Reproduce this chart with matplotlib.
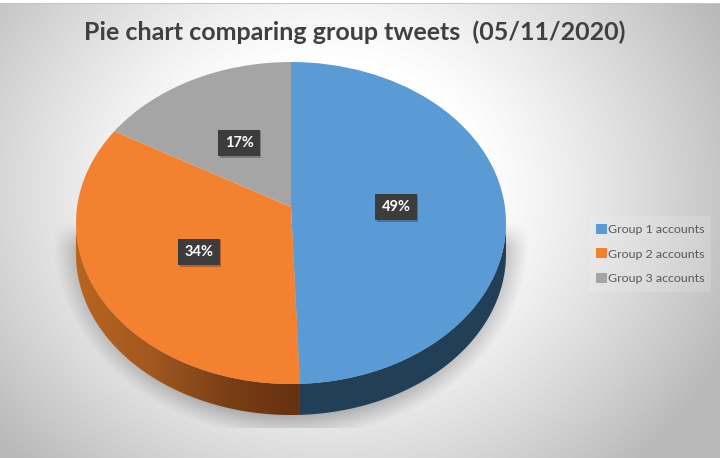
import numpy as np
import matplotlib
matplotlib.use("Agg")
import matplotlib.pyplot as plt
from matplotlib.colors import LinearSegmentedColormap
from matplotlib.patches import Polygon
from matplotlib.transforms import Transform

categories = ["Group 1 accounts", "Group 2 accounts", "Group 3 accounts"]
values = [49.4, 33.9, 16.7]
colors = ["#5b9bd5", "#f4812f", "#a5a5a5"]
title = "Pie chart comparing group tweets  (05/11/2020)"

W, H = 720, 458
CX, CY, RX, RY, DEPTH = 291, 223, 215, 161, 31
K = 0.10  # perspective of the tilted pie


class Perspective(Transform):
    input_dims = output_dims = 2

    def transform_non_affine(self, pts):
        pts = np.asarray(pts, float)
        w = 1 + K * pts[:, 1]
        return np.c_[pts[:, 0] * np.sqrt(1 - K ** 2) / w, (pts[:, 1] + K) / w]


fig = plt.figure(figsize=(W / 100, H / 100), dpi=100)
ax = fig.add_axes([0, 0, 1, 1])


def px(x, y):
    return (x - CX) / RX, (CY - y) / RY


wedges, _ = ax.pie(values, colors=colors, startangle=90, counterclock=False,
                   radius=1, center=(0, 0), wedgeprops=dict(linewidth=0, zorder=5))
ax.set_aspect("auto")
xl = px(0, 0)[0], px(W, 0)[0]
yl = px(0, H)[1], px(0, 0)[1]
extent = (xl[0], xl[1], yl[0], yl[1])
for w in wedges:
    w.set_transform(Perspective() + ax.transData)

# background with soft shadow
yy, xx = np.mgrid[0:H, 0:W]
d = np.sqrt(((xx - 330) / 480.0) ** 2 + ((yy - 190) / 420.0) ** 2)
bg = np.clip(1.0 - 0.27 * np.clip((d - 0.30) / 0.60, 0, 1) ** 1.2, 0, 1)
e = np.sqrt(((xx - 291) / 238.0) ** 2 + ((yy - 240) / 198.0) ** 2)
sh = np.clip((1.0 - e) / 0.12, 0, 1) ** 1.1 * 0.26
sh *= np.clip((yy - 222) / 25.0, 0, 1) * (yy < 428)
img = bg * (1 - sh)
img[:3] = 1.0
img[3:4] = 0.78
ax.imshow(img, cmap="gray", vmin=0, vmax=1, extent=extent, aspect="auto",
          zorder=0, origin="upper")

# extruded side
a = np.deg2rad(90 - values[0] / sum(values) * 360)
bx, by = Perspective().transform_non_affine(np.array([[np.cos(a), np.sin(a)]]))[0]
bound = np.arctan2(by, bx) + 2 * np.pi
off = DEPTH / RY


def ring(t0, t1):
    t = np.linspace(t0, t1, 200)
    top = np.c_[np.cos(t), np.sin(t)]
    low = top[::-1] - [0, off]
    return np.vstack([top, low])


ax.add_patch(Polygon(ring(bound, 2 * np.pi), closed=True, fc="#223f58", ec="none", zorder=3))
orange_side = Polygon(ring(np.pi, bound), closed=True, fc="none", ec="none", zorder=3)
ax.add_patch(orange_side)
cm = LinearSegmentedColormap.from_list("side", ["#b8641f", "#a35820", "#7a4016", "#653110"])
grad = ax.imshow(np.linspace(0, 1, 256)[None, :], cmap=cm, aspect="auto", zorder=3,
                 extent=(-1, np.cos(bound), -1.3, 0.1))
grad.set_clip_path(orange_side)
ax.set_xlim(*xl)
ax.set_ylim(*yl)

# percent labels
pos = [(396, 207), (199, 252), (239, 143)]
for (x, y), v in zip(pos, values):
    s = f"{v:.0f}%"
    X, Y = px(x, y)
    Xs, Ys = px(x + 1.5, y + 1.5)
    ax.text(Xs, Ys, s, color="none", fontsize=10.5, fontweight="bold", family="Lato",
            ha="center", va="center", zorder=6,
            bbox=dict(boxstyle="square,pad=0.42", fc="#000000", ec="none", alpha=0.25))
    ax.text(X, Y, s, color="white", fontsize=10.5, fontweight="bold", family="Lato",
            ha="center", va="center", zorder=7,
            bbox=dict(boxstyle="square,pad=0.42", fc="#3c3c3c", ec="none"))

# title
X, Y = px(354.5, 32)
ax.text(X, Y, title, color="#404040", fontsize=18, fontweight="bold", family="Lato",
        ha="center", va="center", zorder=8)

# legend
leg = ax.legend(wedges, categories, loc="center left",
                bbox_to_anchor=(589 / W, 1 - 254 / H), frameon=True,
                labelcolor="#595959", prop=dict(family="Lato", size=8.9),
                handlelength=0.85, handleheight=0.85, handletextpad=0.05, labelspacing=1.08,
                borderpad=0.6, borderaxespad=0, fancybox=False)
leg.get_frame().set(facecolor="#f4f4f4", alpha=0.2, edgecolor="none")
leg.set_zorder(8)

ax.axis("off")
fig.savefig("out.png", dpi=100)
